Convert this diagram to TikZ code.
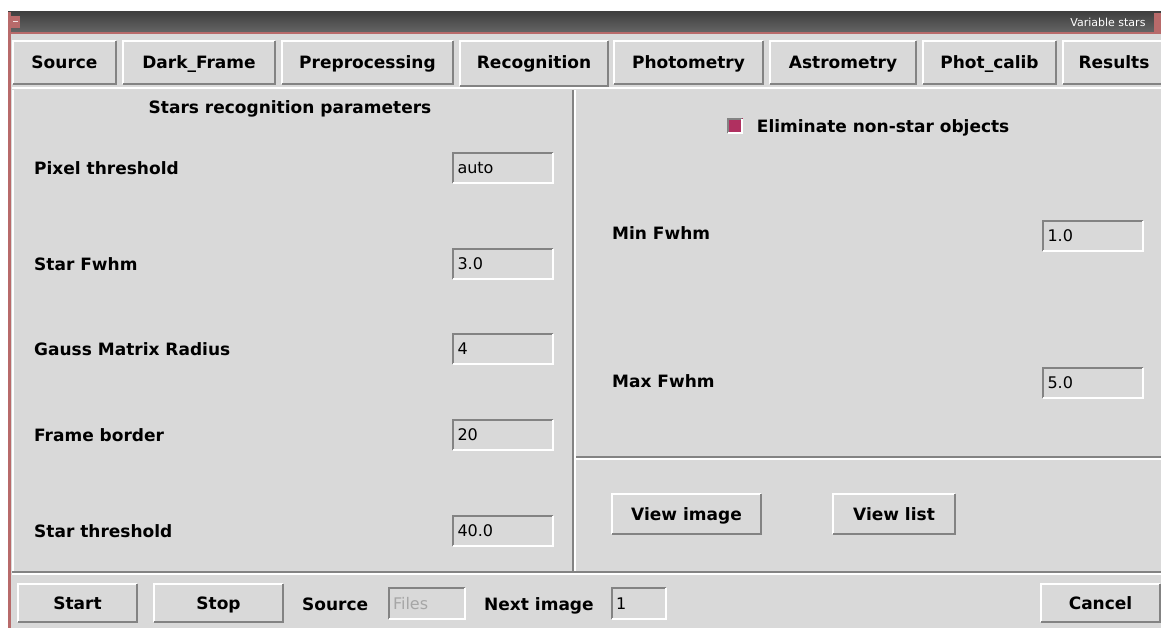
\documentclass[tikz,border=0pt]{standalone}
\usepackage{fontspec}
\setmainfont{DejaVu Sans}
\usetikzlibrary{positioning}
\definecolor{bg}{HTML}{D9D9D9}
\definecolor{darkrim}{HTML}{838383}
\definecolor{sel}{HTML}{B03060}
\definecolor{wm}{HTML}{B86A6A}

\tikzset{
  raised/.style={fill=bg, inner sep=0pt, text height=12.5pt, text depth=0pt, font=\fontsize{17}{19}\selectfont\bfseries},
  sunken/.style={fill=bg, inner xsep=5pt, inner ysep=0pt, align=left, text height=11.5pt, text depth=0pt,
    font=\fontsize{16}{18}\selectfont},
  lbl/.style={anchor=west, inner sep=0pt, text height=12.5pt, text depth=0pt, font=\fontsize{17}{19}\selectfont\bfseries},
  hi/.style={line width=2pt}
}

\begin{document}
\begin{tikzpicture}[x=1pt,y=-1pt,
    tab/.style={raised, minimum height=45pt},
    entry/.style={sunken, minimum height=32pt, text width=91pt},
    btn/.style={raised, minimum height=41pt}]
    \useasboundingbox (0,0) rectangle (1161,628);
    \fill[white] (0,0) rectangle (1161,628);
    \fill[bg] (8,12) rectangle (1161,628);
    % window frame and title bar
    \shade[top color=black!75, bottom color=black!60] (8,12) rectangle (1161,33);
    \draw[wm,line width=1.5pt] (8,33) -- (1161,33);
    \draw[wm,line width=3pt] (9.5,12) -- (9.5,628);
    \fill[wm] (11,16) rectangle (20,28);
    \draw[white!80!wm,line width=1pt] (13,22) -- (18,22);
    \fill[wm] (1154,13) rectangle (1161,32);
    \node[anchor=east, text=white, font=\fontsize{11}{12}\selectfont] (title) at (1149,22) {Variable stars};
    % tabs
    \draw[white,line width=2pt] (12,88.5) -- (1161,88.5);
    \foreach \x/\w/\t/\n in {64.5/105/Source/src, 199/154/Dark\_Frame/dark, 367.5/173/Preprocessing/pre,
        688.5/151/Photometry/phot, 843/148/Astrometry/astr, 989.5/135/Phot\_calib/cal, 1114/104/Results/res}
      \node[tab, minimum width=\w pt] (\n) at (\x,62.5) {\t};
    \node[tab, minimum width=150pt, minimum height=47pt, text depth=2pt] (rec) at (534,63.5) {Recognition};
    % panels
    \draw[white,hi] (13,90) -- (13,572);
    \draw[darkrim,hi] (573,90) -- (573,571);
    \draw[white,hi] (575,90) -- (575,571);
    \draw[darkrim,hi] (576,457) -- (1161,457);
    \draw[white,hi] (576,459) -- (1161,459);
    \draw[darkrim,hi] (12,572) -- (1161,572);
    \draw[white,hi] (12,574) -- (1161,574);
    % left side
    \node[lbl, anchor=center] (head) at (290,107) {Stars recognition parameters};
    \foreach \y/\t/\v/\n in {168/Pixel threshold/auto/pix, 264/Star Fwhm/3.0/fw, 349/Gauss Matrix Radius/4/gm,
        435/Frame border/20/fb, 531/Star threshold/40.0/st} {
      \node[lbl] (\n) at (34,\y) {\t};
      \node[entry] (\n-e) at (503,\y) {\v};
    }
    % right side
    \node[fill=sel, minimum size=15pt, inner sep=0pt] (elim) at (735,126) {};
    \node[lbl, right=14pt of elim] (elim-t) {Eliminate non-star objects};
    \node[lbl] (minf) at (612,233) {Min Fwhm};
    \node[entry] (minf-e) at (1093,236) {1.0};
    \node[lbl] (maxf) at (612,381) {Max Fwhm};
    \node[entry] (maxf-e) at (1093,383) {5.0};
    \node[btn, minimum width=151pt] (view) at (686.5,514) {View image};
    \node[btn, minimum width=124pt] (list) at (894,514) {View list};
    % bottom bar
    \node[btn, minimum width=121pt, minimum height=40pt] (start) at (77.5,603) {Start};
    \node[btn, minimum width=131pt, minimum height=40pt] (stop) at (218.5,603) {Stop};
    \node[lbl] (src-l) at (302,604) {Source};
    \node[sunken, minimum width=78pt, minimum height=33pt, text width=68pt, text=black!35] (files) at (427,603.5) {Files};
    \node[lbl] (next) at (484,604) {Next image};
    \node[sunken, minimum width=56pt, minimum height=33pt, text width=46pt] (next-e) at (639,603.5) {1};
    \node[btn, minimum width=120pt, minimum height=40pt] (cancel) at (1100.5,603) {Cancel};
    % bevels: light top-left, dark bottom-right
    \foreach \n in {src,dark,pre,rec,phot,astr,cal,res,view,list,start,stop,cancel} {
      \draw[white,hi] ([xshift=1pt,yshift=1pt]\n.south west) |- ([xshift=-1pt,yshift=-1pt]\n.north east);
      \draw[darkrim,hi] ([xshift=1pt,yshift=1pt]\n.south west) -| ([xshift=-1pt,yshift=-1pt]\n.north east);
    }
    \foreach \n in {pix-e,fw-e,gm-e,fb-e,st-e,minf-e,maxf-e,files,next-e,elim} {
      \draw[darkrim,hi] ([xshift=1pt,yshift=1pt]\n.south west) |- ([xshift=-1pt,yshift=-1pt]\n.north east);
      \draw[white,hi] ([xshift=1pt,yshift=1pt]\n.south west) -| ([xshift=-1pt,yshift=-1pt]\n.north east);
    }
\end{tikzpicture}
\end{document}
